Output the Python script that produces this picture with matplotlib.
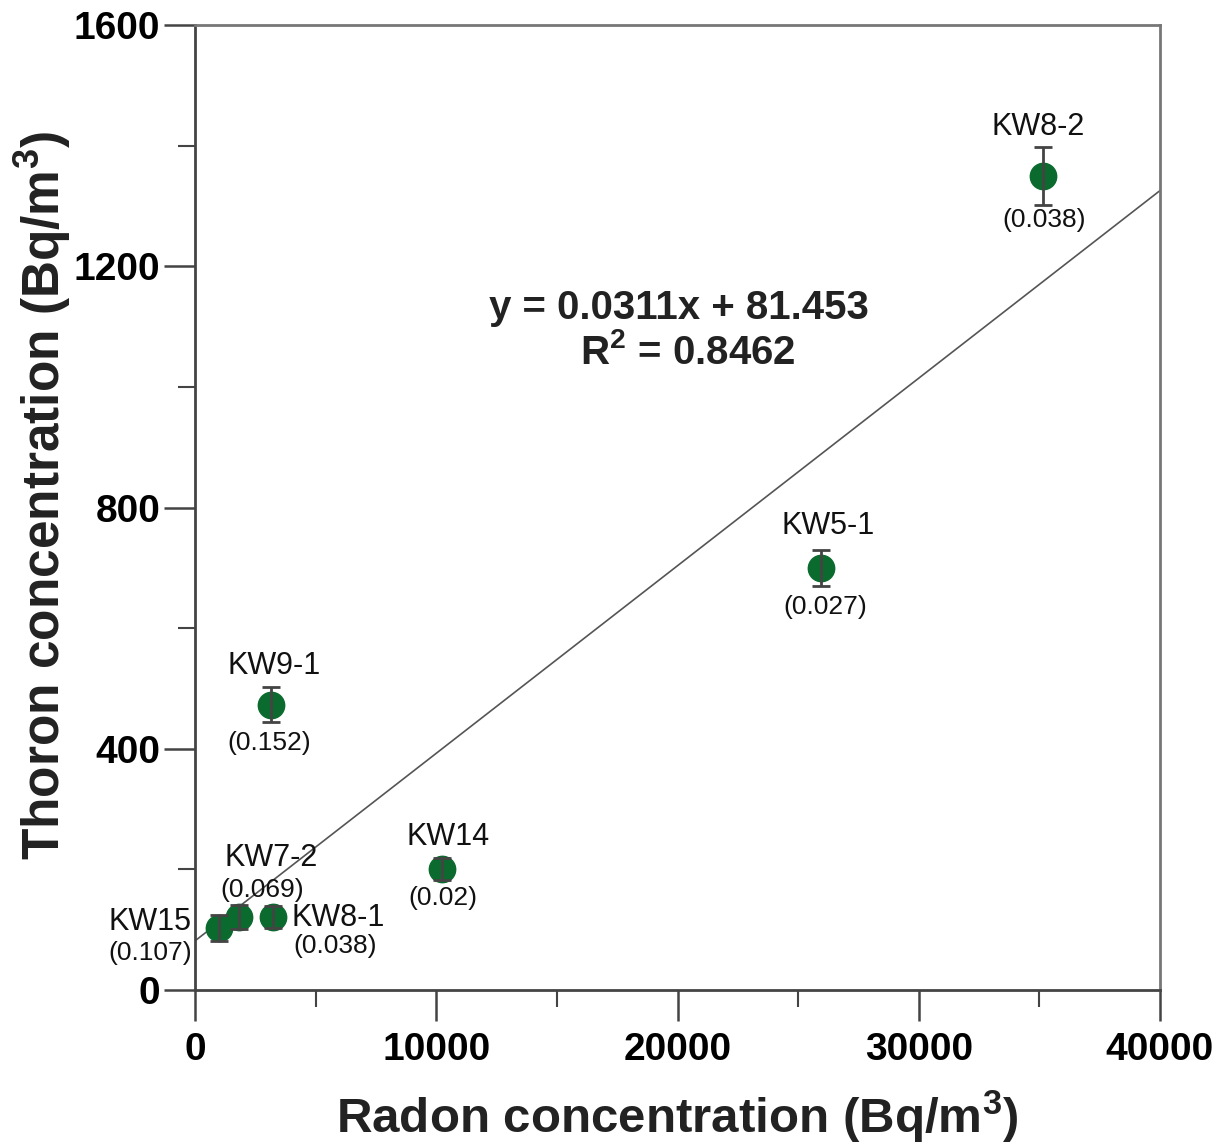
import matplotlib
matplotlib.use("Agg")
import matplotlib.pyplot as plt
import numpy as np
from matplotlib.ticker import MultipleLocator

plt.rcParams['font.family'] = ['Liberation Sans', 'DejaVu Sans']
plt.rcParams['mathtext.fontset'] = 'custom'
plt.rcParams['mathtext.rm'] = 'Liberation Sans'
plt.rcParams['mathtext.bf'] = 'Liberation Sans:bold'

# data
names = ["KW8-2", "KW5-1", "KW9-1", "KW14", "KW7-2", "KW8-1", "KW15"]
ratios = ["(0.038)", "(0.027)", "(0.152)", "(0.02)", "(0.069)", "(0.038)", "(0.107)"]
radon = [35150, 25950, 3150, 10240, 1820, 3230, 990]
thoron = [1350, 700, 473, 201, 121, 121, 103]
thoron_err = [48, 30, 29, 18, 20, 18, 22]
slope = 0.0311
intercept = 81.453
r2 = 0.8462

# label offsets (pixels): name (dx, dy, ha), ratio (dx, dy)
name_off = [(-5, 49, 'center'), (7, 42, 'center'), (3, 39, 'center'), (6, 32, 'center'),
            (32, 59, 'center'), (19, -1, 'left'), (-69, 6, 'center')]
ratio_off = [(1, -44), (4, -39), (-2, -38), (1, -29), (23, 27), (62, -29), (-69, -25)]

fig = plt.figure(figsize=(12.29, 11.45), dpi=100)
ax = fig.add_axes([195/1229, 1-990/1145, (1160-195)/1229, (990-25)/1145])

xl = np.array([0, 40000])
ax.plot(xl, slope*xl + intercept, color='#555555', lw=1.2, zorder=1)

ax.plot(radon, thoron, 'o', color='#0b6b2e', ms=19, zorder=3)
ax.errorbar(radon, thoron, yerr=thoron_err, fmt='none',
            ecolor='#444444', elinewidth=2, capsize=6.5, capthick=2, zorder=4)

for i in range(len(names)):
    dx, dy, ha = name_off[i]
    ax.annotate(names[i], (radon[i], thoron[i]), xytext=(dx, dy), textcoords='offset pixels',
                ha=ha, va='center', fontsize=22, color='#111111')
    dx, dy = ratio_off[i]
    ax.annotate(ratios[i], (radon[i], thoron[i]), xytext=(dx, dy), textcoords='offset pixels',
                ha='center', va='center', fontsize=19, color='#111111')

fig.text(679/1229, 1-308/1145, "y = %.4fx + %.3f" % (slope, intercept), ha='center', va='center',
         fontsize=29, fontweight='bold', color='#222222')
fig.text(688/1229, 1-352/1145, r"R$^{\mathbf{2}}$ = %.4f" % r2, ha='center', va='center',
         fontsize=29, fontweight='bold', color='#222222')

ax.set_xlim(0, 40000)
ax.set_ylim(0, 1600)
ax.xaxis.set_major_locator(MultipleLocator(10000))
ax.xaxis.set_minor_locator(MultipleLocator(5000))
ax.yaxis.set_major_locator(MultipleLocator(400))
ax.yaxis.set_minor_locator(MultipleLocator(200))
ax.tick_params(which='major', direction='out', length=22, width=1.8, color='#444444',
               labelsize=28)
ax.tick_params(axis='x', which='major', pad=8)
ax.tick_params(axis='y', which='major', pad=3)
ax.tick_params(which='minor', direction='out', length=12, width=1.5, color='#444444')
for lab in ax.get_xticklabels() + ax.get_yticklabels():
    lab.set_fontweight('bold')
for s in ['left', 'bottom']:
    ax.spines[s].set_color('#444444')
    ax.spines[s].set_linewidth(2)
for s in ['right', 'top']:
    ax.spines[s].set_color('#777777')
    ax.spines[s].set_linewidth(2)

fig.text(677/1229, 1-1117/1145, r"Radon concentration (Bq/m$^{\mathbf{3}}$)", fontsize=35.5,
         fontweight='bold', color='#222222', ha='center', va='center')
fig.text(43/1229, 1-495/1145, r"Thoron concentration (Bq/m$^{\mathbf{3}}$)", fontsize=37,
         fontweight='bold', color='#222222', ha='center', va='center', rotation=90)

fig.savefig("out.png", dpi=100)
